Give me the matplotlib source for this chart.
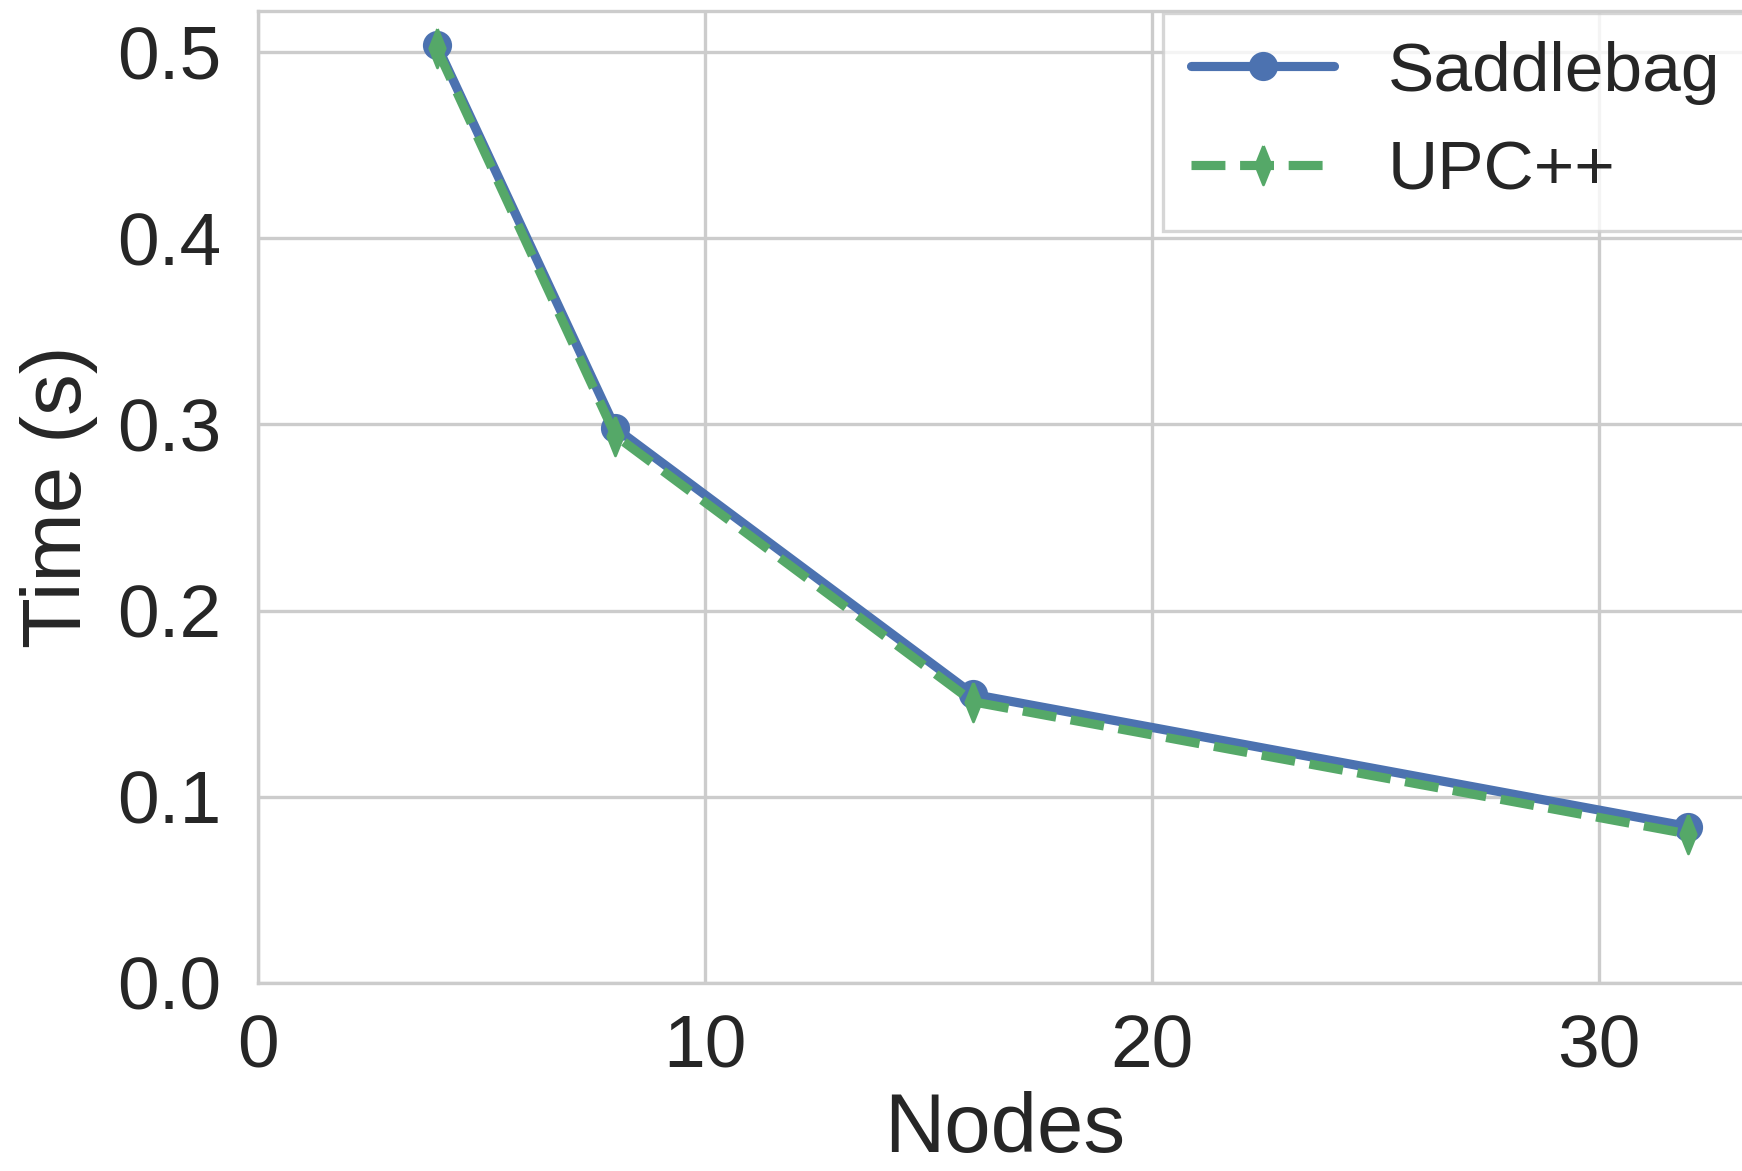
import matplotlib
matplotlib.use("Agg")
import matplotlib.pyplot as plt
import seaborn as sns

# Data
nodes = [4, 8, 16, 32]
saddlebag_time = [0.504, 0.298, 0.155, 0.084]
upcxx_time = [0.502, 0.294, 0.151, 0.080]

sns.set_theme(style="whitegrid")
plt.rcParams["font.family"] = ["Liberation Sans", "DejaVu Sans"]

fig = plt.figure(figsize=(8.71, 5.855), dpi=200)
ax = fig.add_axes([0.148, 0.1606, 0.857, 0.830])

# thin diamond marker like the original
thin_diamond = [(0, 1), (0.4, 0), (0, -1), (-0.4, 0), (0, 1)]

ax.plot(nodes, saddlebag_time, color="#4C72B0", linestyle="-",
        marker="o", markersize=9.5, linewidth=3.3, label="Saddlebag")
ax.plot(nodes, upcxx_time, color="#55A868", linestyle="--",
        marker=thin_diamond, markersize=14, linewidth=3.3, label="UPC++")

ax.set_xlim(0, 33.4)
ax.set_ylim(0, 0.522)
ax.set_xticks([0, 10, 20, 30])
ax.set_yticks([0.0, 0.1, 0.2, 0.3, 0.4, 0.5])
ax.tick_params(axis="both", labelsize=27, length=0, colors="#262626")
ax.tick_params(axis="y", pad=13)
ax.tick_params(axis="x", pad=11)
ax.set_xlabel("Nodes", fontsize=30, color="#262626", labelpad=3)
ax.set_ylabel("Time (s)", fontsize=30, color="#262626", labelpad=7)

for spine in ax.spines.values():
    spine.set_color("#cccccc")
    spine.set_linewidth(1.2)
ax.grid(color="#cccccc", linewidth=1.2)

leg = fig.legend(loc="upper left", bbox_to_anchor=(0.6676, 0.989),
                 fontsize=25, frameon=True, fancybox=False,
                 borderaxespad=0, borderpad=0.4, handlelength=2.07,
                 handletextpad=0.77, labelspacing=0.5)
leg.get_frame().set_edgecolor("#cccccc")
leg.get_frame().set_linewidth(1.2)
for txt in leg.get_texts():
    txt.set_color("#262626")

fig.savefig("out.png", dpi=200)
